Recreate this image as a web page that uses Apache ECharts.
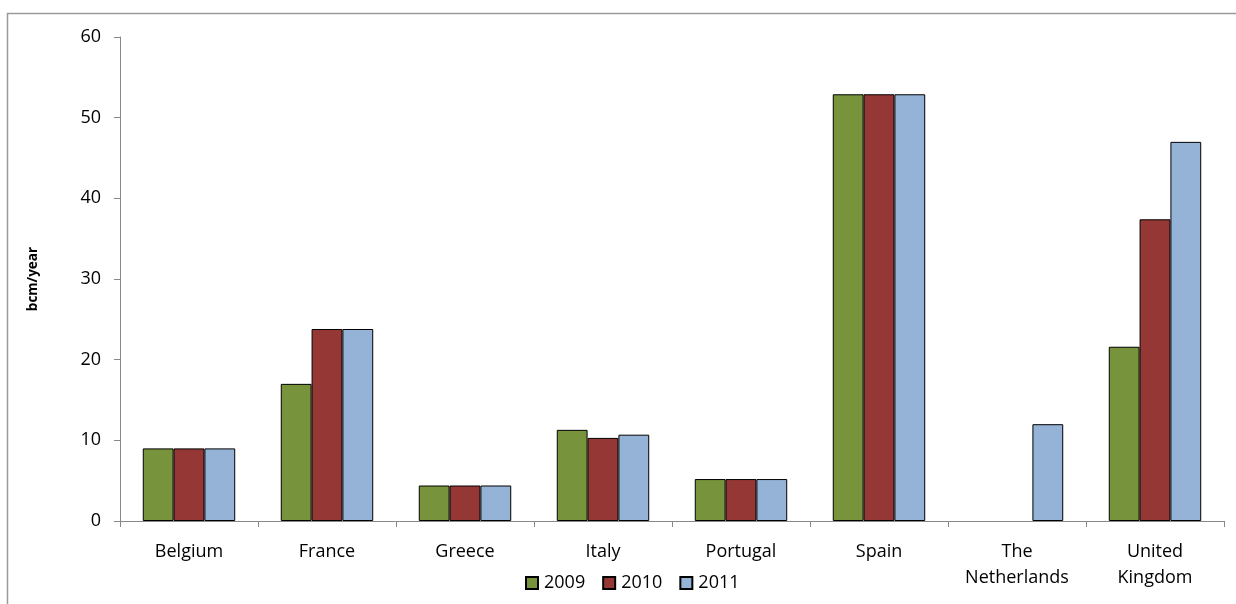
<!DOCTYPE html>
<html><head><meta charset="utf-8">
<script src="https://cdn.jsdelivr.net/npm/echarts@6/dist/echarts.min.js"></script>
<style>html,body{margin:0;padding:0;background:#fff}#c{width:1236px;height:604px}</style>
</head><body><div id="c"></div>
<script>
const categories = ['Belgium','France','Greece','Italy','Portugal','Spain','The\nNetherlands','United\nKingdom'];
const years = ['2009','2010','2011'];
const s2009 = [9.0, 17.0, 4.4, 11.3, 5.2, 52.9, null, 21.6];
const s2010 = [9.0, 23.8, 4.4, 10.3, 5.2, 52.9, null, 37.4];
const s2011 = [9.0, 23.8, 4.4, 10.7, 5.2, 52.9, 12.0, 47.0];
const yTicks = [0, 10, 20, 30, 40, 50, 60];
const colors = ['#77933C', '#953735', '#95B3D7'];
const font = '"Open Sans", sans-serif';

const chart = echarts.init(document.getElementById('c'), null, {renderer: 'canvas'});
const seriesData = [s2009, s2010, s2011];
chart.setOption({
  animation: false,
  textStyle: {fontFamily: font},
  graphic: [{
    type: 'polyline',
    shape: {points: [[7.5, 610], [7.5, 13.5], [1240, 13.5]]},
    style: {stroke: '#9a9a9a', lineWidth: 1.5, fill: null},
    silent: true
  }],
  grid: {left: 120, right: 12, top: 37, bottom: 83, containLabel: false},
  legend: {
    data: years,
    top: 569,
    left: 520,
    itemWidth: 12,
    itemHeight: 12,
    itemGap: 17,
    textStyle: {fontSize: 18, color: '#000', fontFamily: font, padding: [0, 0, 0, 1]},
    icon: 'rect'
  },
  xAxis: {
    type: 'category',
    data: categories,
    axisLine: {lineStyle: {color: '#888', width: 1}},
    axisTick: {show: true, alignWithLabel: false, length: 6, lineStyle: {color: '#888'}},
    axisLabel: {fontSize: 18, color: '#000', margin: 18, lineHeight: 26, interval: 0, fontFamily: font},
    splitLine: {show: false}
  },
  yAxis: {
    type: 'value',
    min: yTicks[0], max: yTicks[yTicks.length - 1], interval: 10,
    name: 'bcm/year',
    nameLocation: 'middle',
    nameGap: 80,
    nameTextStyle: {fontSize: 13.5, fontWeight: 'bold', color: '#000', fontFamily: font},
    axisLine: {show: true, lineStyle: {color: '#888', width: 1}},
    axisTick: {show: true, length: 6, lineStyle: {color: '#888'}},
    axisLabel: {fontSize: 18, color: '#000', margin: 19, fontFamily: font},
    splitLine: {show: false}
  },
  series: years.map((y, i) => ({
    name: y,
    type: 'bar',
    data: seriesData[i],
    barGap: '0%',
    barCategoryGap: '33%',
    itemStyle: {color: colors[i], borderColor: '#000', borderWidth: 1}
  }))
});
</script></body></html>
